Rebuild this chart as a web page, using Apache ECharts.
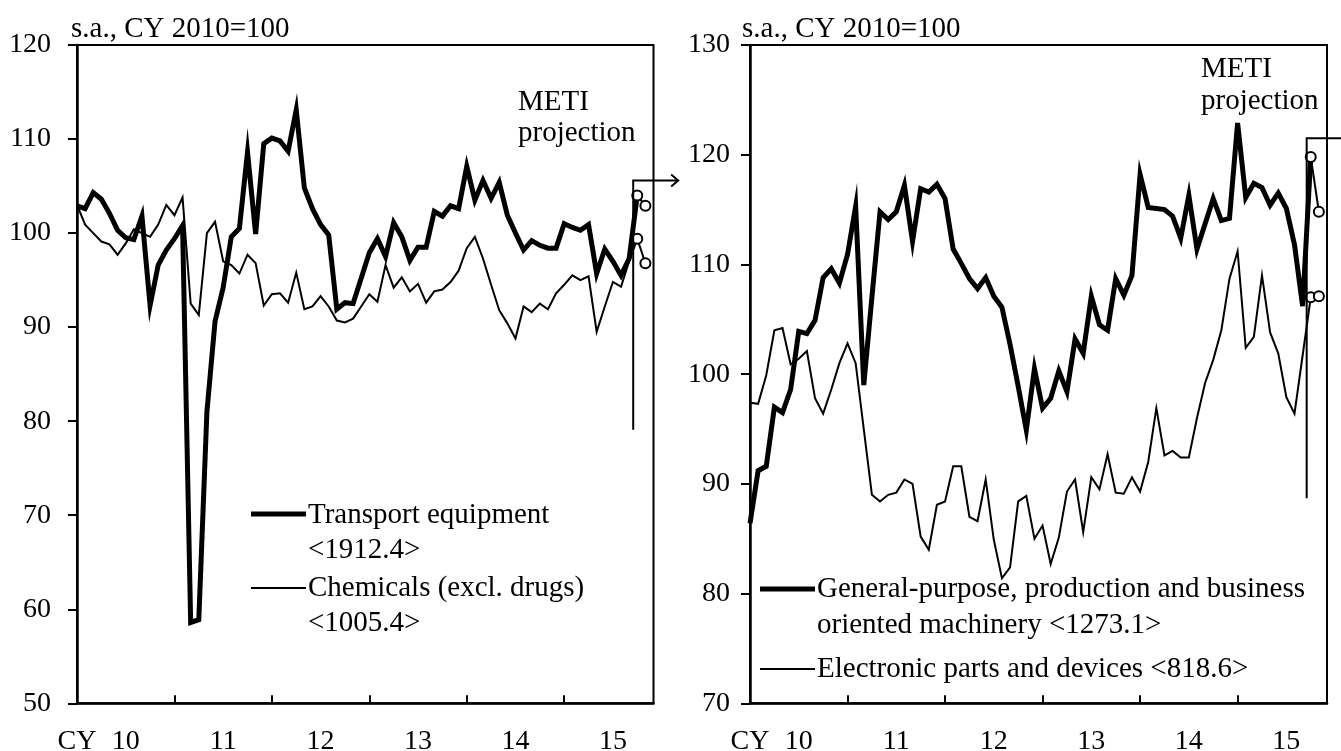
<html>
<head>
<meta charset='utf-8'>
<title>Production by industry</title>
<script src="https://cdn.jsdelivr.net/npm/echarts@6/dist/echarts.min.js"></script>
<style>
    body { margin: 0; background: #fff; }
    #chart { width: 1341px; height: 751px; }
</style>
</head>
<body>
<div id="chart"></div>
<script>
// monthly, Jan 2010 .. Dec 2015 (72 slots); actuals to Sep 2015, METI projection Oct-Nov
var yearLabels = ['10', '11', '12', '13', '14', '15'];

var transport = [102.9, 102.6, 104.3, 103.6, 102.1, 100.3, 99.5, 99.3, 101.8, 92.3, 96.6, 98.2,
    99.4, 100.8, 58.6, 58.9, 81.0, 90.6, 94.2, 99.6, 100.5, 108.6, 99.9, 109.5,
    110.1, 109.8, 108.7, 113.1, 104.8, 102.6, 100.9, 99.8, 91.9, 92.6, 92.5, 95.2,
    97.9, 99.4, 97.5, 101.1, 99.6, 97.1, 98.5, 98.5, 102.3, 101.8, 102.9, 102.6,
    107.1, 103.5, 105.6, 103.7, 105.4, 101.9, 100.0, 98.2, 99.2, 98.7, 98.4, 98.4,
    101.0, 100.6, 100.3, 100.9, 95.7, 98.3, 97.0, 95.5, 97.3];
var transportProj = [104.0, 102.9];

var chemicals = [103.0, 100.9, 100.0, 99.1, 98.8, 97.7, 98.9, 100.4, 100.0, 99.6, 100.9, 103.0,
    101.9, 103.8, 92.5, 91.3, 100.0, 101.2, 97.0, 96.6, 95.7, 97.7, 96.8, 92.3,
    93.5, 93.6, 92.6, 95.8, 91.9, 92.2, 93.3, 92.2, 90.7, 90.5, 90.9, 92.2,
    93.5, 92.7, 96.6, 94.2, 95.3, 93.8, 94.6, 92.6, 93.8, 94.0, 94.8, 96.0,
    98.4, 99.6, 97.3, 94.5, 91.8, 90.4, 88.8, 92.2, 91.6, 92.5, 91.9, 93.6,
    94.5, 95.5, 95.0, 95.4, 89.5, 92.2, 94.8, 94.3, 97.0];
var chemicalsProj = [99.4, 96.8];

var machinery = [86.4, 91.2, 91.6, 97.0, 96.5, 98.6, 103.9, 103.7, 104.9, 108.8, 109.6, 108.3,
    110.9, 115.3, 99.0, 107.0, 114.8, 114.1, 114.8, 117.2, 112.1, 116.9, 116.6, 117.3,
    116.0, 111.4, 110.1, 108.7, 107.8, 108.8, 107.1, 106.1, 102.7, 98.9, 94.9, 100.5,
    96.9, 97.8, 100.3, 98.4, 103.2, 101.9, 107.1, 104.5, 104.0, 108.7, 107.2, 109.0,
    118.2, 115.2, 115.1, 115.0, 114.4, 112.4, 116.3, 111.4, 113.7, 116.0, 114.0, 114.2,
    122.9, 116.1, 117.4, 117.0, 115.4, 116.5, 115.1, 111.8, 106.2];
var machineryProj = [119.8, 114.8];

var electronics = [97.4, 97.3, 99.9, 104.0, 104.2, 100.9, 101.4, 102.1, 97.8, 96.4, 98.6, 101.0,
    102.8, 101.0, 95.0, 89.0, 88.4, 89.0, 89.2, 90.4, 90.0, 85.2, 84.0, 88.1,
    88.4, 91.6, 91.6, 87.0, 86.6, 90.4, 84.9, 81.4, 82.4, 88.4, 88.9, 85.0,
    86.2, 82.7, 85.1, 89.3, 90.4, 85.6, 90.6, 89.5, 92.7, 89.2, 89.1, 90.6,
    89.3, 92.0, 96.9, 92.6, 93.0, 92.4, 92.4, 96.0, 99.2, 101.3, 104.0, 108.7,
    111.2, 102.4, 103.4, 109.0, 103.8, 101.9, 97.9, 96.4, 101.7];
var electronicsProj = [107.0, 107.1];

// projection bracket: top / bottom of the vertical line, in axis units
var bracketLeft = [105.6, 79.1];
var bracketRight = [121.5, 88.7];

var FONT = "'Liberation Serif', 'Times New Roman', serif";
var N = yearLabels.length * 12;
var categories = [];
yearLabels.forEach(function (y) {
    for (var mo = 1; mo <= 12; mo++) categories.push(y + '/' + mo);
});

function padTo(arr, start) {
    var out = [];
    for (var i = 0; i < N; i++) {
        var k = i - start;
        out.push(k >= 0 && k < arr.length ? arr[k] : null);
    }
    return out;
}

function xAxisFor(g) {
    return {
        type: 'category', gridIndex: g, data: categories, boundaryGap: false,
        axisLine: { show: true, lineStyle: { color: '#000', width: 2.5 } },
        axisTick: { show: true, inside: true, length: 8,
            interval: function (i) { return i > 0 && i % 12 === 0; },
            lineStyle: { color: '#000', width: 2 } },
        axisLabel: { show: true, color: '#000', fontFamily: FONT, fontSize: 28, margin: 24,
            interval: function (i) { return i === 0 || i % 12 === 6; },
            formatter: function (v, i) { return i === 0 ? 'CY' : yearLabels[Math.floor(i / 12)]; } },
        splitLine: { show: false }
    };
}

function yAxisFor(g, min, max, margin) {
    return {
        type: 'value', gridIndex: g, min: min, max: max, interval: 10,
        axisLine: { show: true, lineStyle: { color: '#000', width: 2.5 } },
        axisTick: { show: true, inside: false, length: 9, lineStyle: { color: '#000', width: 2 } },
        axisLabel: { show: true, color: '#000', fontFamily: FONT, fontSize: 28, margin: margin },
        splitLine: { show: false }
    };
}

function actualSeries(g, vals, proj, width) {
    return {
        type: 'line', xAxisIndex: g, yAxisIndex: g, silent: true,
        data: padTo(vals.concat([proj[0]]), 0),
        symbol: 'none', showSymbol: false, connectNulls: false,
        lineStyle: { color: '#000', width: width, join: 'miter' },
        itemStyle: { color: '#000' }, z: 3
    };
}

function projSeries(g, proj) {
    return {
        type: 'line', xAxisIndex: g, yAxisIndex: g, silent: true,
        data: padTo(proj, 69),
        symbol: 'circle', symbolSize: 10, showSymbol: true, showAllSymbol: true,
        lineStyle: { color: '#000', width: 2 },
        itemStyle: { color: '#fff', borderColor: '#000', borderWidth: 2 }, z: 5
    };
}

var chart = echarts.init(document.getElementById('chart'), null, { renderer: 'canvas' });
var gridStyle = { show: true, borderColor: '#000', borderWidth: 2, backgroundColor: 'transparent',
    containLabel: false, outerBoundsMode: 'none' };
var option = {
    animation: false,
    backgroundColor: '#fff',
    grid: [
        Object.assign({ left: 77, top: 45, width: 576.5, height: 658.3 }, gridStyle),
        Object.assign({ left: 750, top: 45, width: 577, height: 658.3 }, gridStyle)
    ],
    xAxis: [xAxisFor(0), xAxisFor(1)],
    yAxis: [yAxisFor(0, 50, 120, 26), yAxisFor(1, 70, 130, 20)],
    series: [
        actualSeries(0, chemicals, chemicalsProj, 2),
        actualSeries(0, transport, transportProj, 5),
        projSeries(0, chemicalsProj),
        projSeries(0, transportProj),
        actualSeries(1, electronics, electronicsProj, 2),
        actualSeries(1, machinery, machineryProj, 5),
        projSeries(1, electronicsProj),
        projSeries(1, machineryProj)
    ]
};
chart.setOption(option);

function txt(x, y, s, size) {
    return { type: 'text', x: x, y: y, silent: true, z: 20,
        style: { text: s, fill: '#000', font: (size || 29) + 'px ' + FONT, align: 'left', verticalAlign: 'middle' } };
}
function seg(x1, y1, x2, y2, w) {
    return { type: 'line', silent: true, z: 20,
        shape: { x1: x1, y1: y1, x2: x2, y2: y2 }, style: { stroke: '#000', lineWidth: w } };
}
function bracket(g, range) {
    var a = chart.convertToPixel({ xAxisIndex: g, yAxisIndex: g }, [68, range[0]]);
    var b = chart.convertToPixel({ xAxisIndex: g, yAxisIndex: g }, [69, range[1]]);
    var x = (a[0] + b[0]) / 2, yt = a[1], yb = b[1], tip = x + 45;
    return [
        { type: 'polyline', silent: true, z: 20, shape: { points: [[x, yb], [x, yt], [tip, yt]] },
          style: { stroke: '#000', lineWidth: 2, fill: null } },
        { type: 'polyline', silent: true, z: 20, shape: { points: [[tip - 7, yt - 6], [tip, yt], [tip - 7, yt + 6]] },
          style: { stroke: '#000', lineWidth: 2, fill: null } }
    ];
}

var graphics = [
    txt(71, 29, 's.a., CY 2010=100'),
    txt(742, 29, 's.a., CY 2010=100'),
    txt(518, 102, 'METI'),
    txt(518, 133, 'projection'),
    txt(1201, 69, 'METI'),
    txt(1201, 101, 'projection'),
    // left legend
    seg(251, 514, 306, 514, 5),
    txt(308, 515, 'Transport equipment'),
    txt(308, 550, '<1912.4>'),
    seg(251, 588, 306, 588, 2),
    txt(308, 588, 'Chemicals (excl. drugs)'),
    txt(308, 623, '<1005.4>'),
    // right legend
    seg(760, 589, 815, 589, 5),
    txt(817, 589, 'General-purpose, production and business'),
    txt(817, 625, 'oriented machinery <1273.1>'),
    seg(760, 669, 815, 669, 2),
    txt(817, 669, 'Electronic parts and devices <818.6>')
].concat(bracket(0, bracketLeft), bracket(1, bracketRight));

chart.setOption({ graphic: graphics });
</script>
</body>
</html>
